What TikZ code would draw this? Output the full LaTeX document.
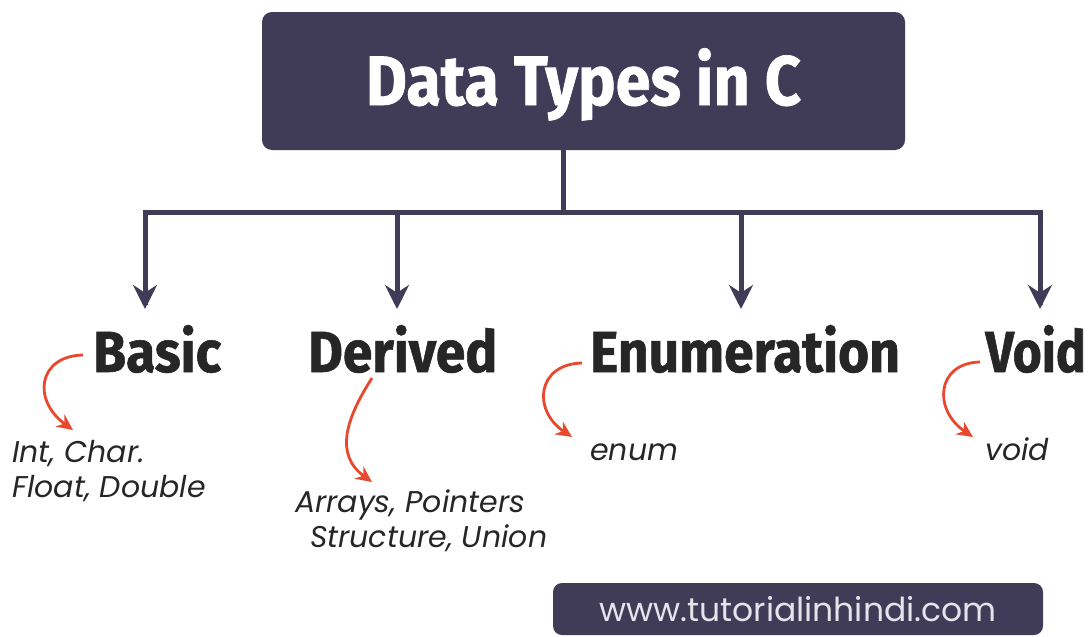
\documentclass[tikz,border=0pt]{standalone}
\usepackage{fontspec}
\usepackage{tikz}
\usetikzlibrary{arrows.meta}
\newfontfamily\headfont{Fira Sans}[FakeStretch=0.92,FakeBold=1]
\newfontfamily\narrowfont{Fira Sans}[FakeStretch=0.86,FakeBold=1]
\newfontfamily\titlefont{Fira Sans}[FakeStretch=0.9,FakeBold=1]
\newfontfamily\subfont{Poppins}
\definecolor{slate}{RGB}{64,60,88}
\definecolor{hintred}{RGB}{232,72,45}
\definecolor{urlgray}{RGB}{228,228,234}

\begin{document}
\begin{tikzpicture}[x=1pt,y=-1pt,
	link/.style={draw=slate,line width=5pt},
	hint/.style={draw=hintred,line width=2.8pt,-{Stealth[length=16pt,width=15pt]}},
	kind/.style={anchor=base west,inner sep=0pt,text=black!85,font=\headfont\bfseries\fontsize{58}{60}\selectfont},
	member/.style={anchor=base west,inner sep=0pt,align=left,text=black!85,font=\subfont\itshape\fontsize{30}{35}\selectfont}]
	
	\useasboundingbox (0,0) rectangle (1090,637);
	
	% title and site boxes
	\node[fill=slate,rounded corners=10pt,minimum width=643pt,minimum height=138pt,
		text=white,text height=48pt,text depth=0pt,
		font=\titlefont\bfseries\fontsize{70}{80}\selectfont] (title) at (583.5,81) {Data Types in C};
	\node[fill=slate,rounded corners=9pt,minimum width=490pt,minimum height=52pt,
		text=urlgray,font=\subfont\fontsize{33}{35}\selectfont] (site) at (798,609) {www.tutorialinhindi.com};
	
	% the four kinds
	\node[kind] (basic) at (93,372) {Basic};
	\node[kind] (derived) at (308,372) {Derived};
	\node[kind] (enumeration) at (590,372) {Enumeration};
	\node[kind,anchor=base east,font=\narrowfont\bfseries\fontsize{58}{60}\selectfont] (void) at (1086,372) {Void};
	
	% what each kind holds (base = last line)
	\node[member] (basicsub) at (12,497) {Int, Char.\\Float, Double};
	\node[member] (derivedsub) at (295,547) {Arrays, Pointers\\\hspace*{15pt}Structure, Union};
	\node[member] (enumsub) at (590,460) {enum};
	\node[member] (voidsub) at (985,460) {void};
	
	% bus from the title
	\coordinate (hub) at (563,212);
	\foreach \n/\x in {1/145,2/397,3/741,4/1040}
	{
		\coordinate (bus\n) at (\x,212);
		\coordinate (tip\n) at (\x,305);
	}
	\draw[link] (hub |- title.south) -- (hub);
	\draw[link,line join=miter] (tip1) -- (bus1) -- (bus4) -- (tip4);
	\foreach \n in {1,...,4}
	{
		\draw[link,-{Stealth[length=24pt,width=24pt]},shorten >=-4pt] (bus\n) -- (tip\n);
	}
	
	% red hints
	\coordinate (s1) at (83,355);  \coordinate (e1) at (73,430);
	\coordinate (s2) at (372,378); \coordinate (e2) at (372,482);
	\coordinate (s3) at (582,363); \coordinate (e3) at (572,437);
	\coordinate (s4) at (980,362); \coordinate (e4) at (973,437);
	\draw[hint] (s1) .. controls (38,356) and (32,400) .. (e1);
	\draw[hint] (s2) .. controls (345,420) and (335,455) .. (e2);
	\draw[hint] (s3) .. controls (537,364) and (532,410) .. (e3);
	\draw[hint] (s4) .. controls (936,363) and (933,410) .. (e4);

\end{tikzpicture}
\end{document}
